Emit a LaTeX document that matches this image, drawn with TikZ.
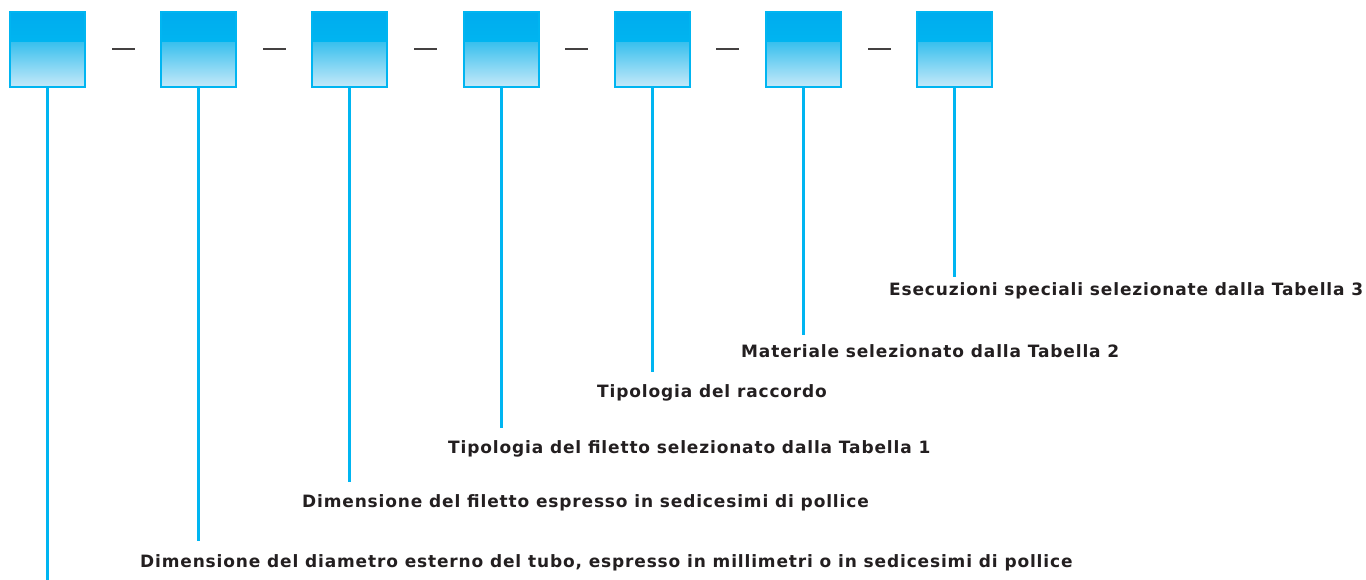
\documentclass[tikz,border=0pt]{standalone}
\usepackage{fontspec}
\setmainfont{DejaVu Sans}
\usepackage{xcolor}
\usepackage{tikz}
\usetikzlibrary{calc}

\definecolor{cyanline}{HTML}{00B5F1}
\definecolor{cyantop}{HTML}{00ACEE}
\definecolor{cyanmid}{HTML}{00C2F3}
\definecolor{cyanlow}{HTML}{3CC1EE}
\definecolor{cyanpale}{HTML}{C6E9F9}
\definecolor{labelgray}{HTML}{231F20}

\tikzset{
  codebox/.style={minimum width=75pt, minimum height=75pt, inner sep=0pt,
    draw=cyanline, line width=2pt,
    path picture={
      \shade[top color=cyantop, bottom color=cyanmid]
        (path picture bounding box.north west) rectangle
        ([yshift=-31pt]path picture bounding box.north east);
      \shade[top color=cyanlow, bottom color=cyanpale]
        ([yshift=-31pt]path picture bounding box.north west) rectangle
        (path picture bounding box.south east);
    }},
  sepbar/.style={fill=labelgray!85, minimum width=23pt, minimum height=2pt, inner sep=0pt},
  lead/.style={draw=cyanline, line width=3pt},
  label/.style={anchor=base west, inner sep=0pt, text=labelgray,
    font=\bfseries\fontsize{17}{20}\selectfont\addfontfeatures{LetterSpace=5}}
}

\begin{document}
\begin{tikzpicture}[x=1pt, y=-1pt]
             \useasboundingbox (0,0) rectangle (1366,580);

             % code boxes
             \foreach \i in {1,...,7}
               \node[codebox] (b\i) at ({47.5+151.2*(\i-1)}, 49.5) {};

             \foreach \i/\j in {1/2,2/3,3/4,4/5,5/6,6/7}
               \node[sepbar] (s\i) at ($(b\i.east)!.5!(b\j.west)$) {};

             % descriptions
             \node[label] (l2) at (140, 567) {Dimensione del diametro esterno del tubo, espresso in millimetri o in sedicesimi di pollice};
             \node[label] (l3) at (302, 507) {Dimensione del filetto espresso in sedicesimi di pollice};
             \node[label] (l4) at (448, 453) {Tipologia del filetto selezionato dalla Tabella 1};
             \node[label] (l5) at (597, 397) {Tipologia del raccordo};
             \node[label] (l6) at (741, 357) {Materiale selezionato dalla Tabella 2};
             \node[label] (l7) at (889, 295) {Esecuzioni speciali selezionate dalla Tabella 3};

             \coordinate (e1) at (b1.south |- 0,580);
             \draw[lead] (b1.south) -- (e1);
             \foreach \i/\g in {2/13,3/12,4/12,5/12,6/9,7/5}
               \draw[lead] (b\i.south) -- ([yshift=\g pt]b\i.south |- l\i.north);
\end{tikzpicture}
\end{document}
